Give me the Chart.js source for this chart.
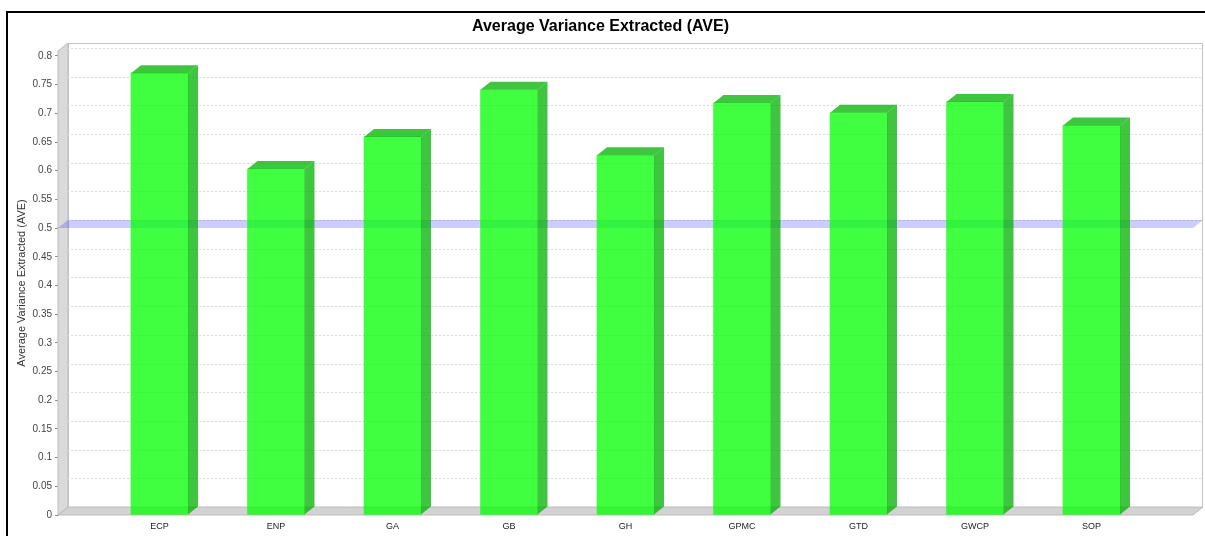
<!DOCTYPE html>
<html>
<head>
<meta charset="utf-8">
<script src="https://cdn.jsdelivr.net/npm/chart.js@4/dist/chart.umd.min.js"></script>
<style>
  html, body { margin: 0; padding: 0; background: #fff; }
  #wrap { position: relative; width: 1205px; height: 536px; }
  canvas { display: block; }
</style>
</head>
<body>
<div id="wrap"><canvas id="c" width="1205" height="536"></canvas></div>
<script>
// Constructs and their AVE scores
const categories = ['ECP', 'ENP', 'GA', 'GB', 'GH', 'GPMC', 'GTD', 'GWCP', 'SOP'];
const aveValues = [0.770, 0.603, 0.659, 0.741, 0.627, 0.718, 0.701, 0.720, 0.679];

// Value axis
const yTickStep = 0.05;
const yTickMax = 0.8;
const yAxisMax = 0.8087;
const thresholdValue = 0.5;

const chartTitle = 'Average Variance Extracted (AVE)';
const valueAxisTitle = 'Average Variance Extracted (AVE)';

// Depth of the pseudo-3D box (pixels to the right / upwards)
const DX = 10, DY = 8;
const FONT = '"Liberation Sans", Arial, sans-serif';

const frontColor = 'rgba(0, 255, 0, 0.75)';
const shadeColor = 'rgba(0, 178, 0, 0.75)';

const roundTick = v => String(parseFloat(v.toFixed(2)));

const box3d = {
  id: 'box3d',
  beforeDraw(chart) {
    const { ctx } = chart;
    ctx.save();
    ctx.fillStyle = '#fff';
    ctx.fillRect(0, 0, chart.width, chart.height);
    // outer frame
    ctx.strokeStyle = '#000';
    ctx.lineWidth = 2;
    ctx.beginPath();
    ctx.moveTo(7, chart.height + 2);
    ctx.lineTo(7, 12);
    ctx.lineTo(chart.width + 2, 12);
    ctx.stroke();
    ctx.restore();
  },
  beforeDatasetsDraw(chart) {
    const { ctx, chartArea: a, scales: { y } } = chart;
    const L = a.left, R = a.right, T = a.top, B = a.bottom;
    ctx.save();
    // back wall
    ctx.fillStyle = '#fff';
    ctx.fillRect(L + DX, T - DY, R - L, B - T);
    ctx.strokeStyle = '#c4c4c4';
    ctx.lineWidth = 1;
    ctx.strokeRect(L + DX + 0.5, T - DY + 0.5, R - L - 1, B - T);
    // left wall
    ctx.fillStyle = '#dadada';
    ctx.beginPath();
    ctx.moveTo(L, B); ctx.lineTo(L, T); ctx.lineTo(L + DX, T - DY); ctx.lineTo(L + DX, B - DY);
    ctx.closePath(); ctx.fill();
    ctx.strokeStyle = '#bcbcbc';
    ctx.stroke();
    // floor
    ctx.fillStyle = '#d2d2d2';
    ctx.beginPath();
    ctx.moveTo(L, B); ctx.lineTo(L + DX, B - DY); ctx.lineTo(R + DX, B - DY); ctx.lineTo(R, B);
    ctx.closePath(); ctx.fill();
    ctx.stroke();

    // dashed grid lines on the left wall and back wall
    ctx.strokeStyle = '#d6d6d6';
    ctx.lineWidth = 1;
    ctx.setLineDash([2, 2]);
    y.ticks.forEach(t => {
      if (t.value <= 0) return;
      const py = Math.round(y.getPixelForValue(t.value)) + 0.5;
      ctx.beginPath();
      ctx.moveTo(L, py);
      ctx.lineTo(L + DX, py - DY);
      ctx.lineTo(R + DX, py - DY);
      ctx.stroke();
    });
    ctx.setLineDash([]);

    // threshold band at 0.5
    const pm = y.getPixelForValue(thresholdValue);
    ctx.fillStyle = 'rgba(0, 0, 255, 0.2)';
    ctx.beginPath();
    ctx.moveTo(L, pm); ctx.lineTo(L + DX, pm - DY); ctx.lineTo(R + DX, pm - DY); ctx.lineTo(R, pm);
    ctx.closePath(); ctx.fill();
    ctx.restore();
  },
  afterDatasetsDraw(chart) {
    const { ctx } = chart;
    const meta = chart.getDatasetMeta(0);
    ctx.save();
    ctx.fillStyle = shadeColor;
    meta.data.forEach(bar => {
      const { x, y, base, width } = bar.getProps(['x', 'y', 'base', 'width'], true);
      const l = x - width / 2, r = x + width / 2;
      // side face
      ctx.beginPath();
      ctx.moveTo(r, y); ctx.lineTo(r + DX, y - DY); ctx.lineTo(r + DX, base - DY); ctx.lineTo(r, base);
      ctx.closePath(); ctx.fill();
      // top face
      ctx.beginPath();
      ctx.moveTo(l, y); ctx.lineTo(l + DX, y - DY); ctx.lineTo(r + DX, y - DY); ctx.lineTo(r, y);
      ctx.closePath(); ctx.fill();
    });
    ctx.restore();
  }
};

const catMargin = 0.8712;

new Chart(document.getElementById('c'), {
  type: 'bar',
  data: {
    datasets: [{
      data: aveValues.map((v, i) => ({ x: i, y: v })),
      backgroundColor: frontColor,
      borderWidth: 0,
      barThickness: 57
    }]
  },
  options: {
    responsive: false,
    animation: false,
    events: [],
    layout: { padding: { left: 8, right: 12, top: 0, bottom: 0 } },
    plugins: {
      legend: { display: false },
      tooltip: { enabled: false },
      title: {
        display: true,
        text: chartTitle,
        color: '#000',
        font: { family: FONT, size: 16, weight: 'bold' },
        padding: { top: 17, bottom: 14.8 }
      }
    },
    scales: {
      x: {
        type: 'linear',
        offset: false,
        min: -catMargin,
        max: categories.length - 1 + catMargin,
        grid: { display: false, drawTicks: false },
        border: { display: false },
        afterBuildTicks: s => { s.ticks = categories.map((_, i) => ({ value: i })); },
        afterFit: s => { s.height = 21; },
        ticks: {
          autoSkip: false,
          maxRotation: 0,
          padding: 6,
          color: '#222',
          font: { family: FONT, size: 9 },
          callback: v => categories[v] ?? ''
        }
      },
      y: {
        min: 0,
        max: yAxisMax,
        afterBuildTicks: s => {
          const ticks = [];
          for (let i = 0; i * yTickStep <= yTickMax + 1e-9; i++) ticks.push({ value: i * yTickStep });
          s.ticks = ticks;
        },
        afterFit: s => { s.width = 50; },
        grid: { drawOnChartArea: false, drawTicks: true, tickLength: 3, color: '#8a8a8a' },
        border: { display: true, color: '#a0a0a0' },
        ticks: {
          padding: 3,
          color: '#444',
          font: { family: FONT, size: 10 },
          callback: v => roundTick(v)
        },
        title: {
          display: true,
          text: valueAxisTitle,
          color: '#333',
          font: { family: FONT, size: 11 },
          padding: { top: 7, bottom: 0 }
        }
      }
    }
  },
  plugins: [box3d]
});
</script>
</body>
</html>
